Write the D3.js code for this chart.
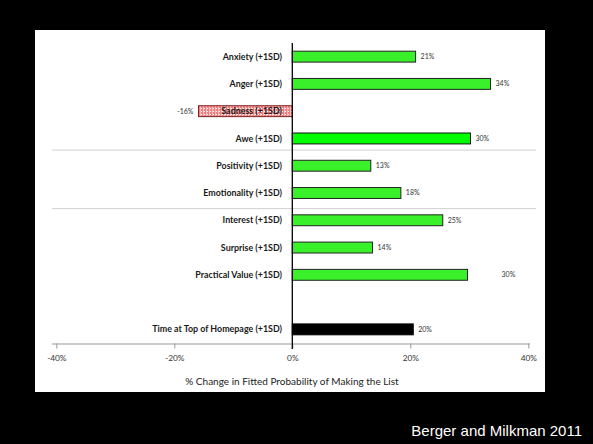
<!DOCTYPE html>
<html><head><meta charset="utf-8">
<script src="https://cdn.jsdelivr.net/npm/d3@7"></script>
<style>body{margin:0;background:#000;}svg{display:block;}</style>
</head><body>
<svg id="c" width="593" height="444"></svg>
<script>
const categories = ["Anxiety (+1SD)","Anger (+1SD)","Sadness (+1SD)","Awe (+1SD)","Positivity (+1SD)","Emotionality (+1SD)","Interest (+1SD)","Surprise (+1SD)","Practical Value (+1SD)","","Time at Top of Homepage (+1SD)"];
const values = [20.9, 33.6, -15.9, 30.2, 13.3, 18.4, 25.5, 13.6, 29.7, null, 20.5];
const valueLabels = ["21%","34%","-16%","30%","13%","18%","25%","14%","30%","","20%"];
const barKinds = ["green","green","sad","awe","green","green","green","green","green","","black"];
const separatorsAfter = [3, 5];
const xTicks = [-40, -20, 0, 20, 40];
const xTitle = "% Change in Fitted Probability of Making the List";
const credit = "Berger and Milkman 2011";

const svg = d3.select("#c");
svg.append("rect").attr("width",593).attr("height",444).attr("fill","#000");
svg.append("rect").attr("x",35).attr("y",30).attr("width",510).attr("height",362).attr("fill","#fff");

const defs = svg.append("defs");
const pat = defs.append("pattern").attr("id","sadpat").attr("patternUnits","userSpaceOnUse").attr("width",3).attr("height",3);
pat.append("rect").attr("width",3).attr("height",3).attr("fill","#f08080");
pat.append("rect").attr("width",1).attr("height",1).attr("fill","#fff");
pat.append("rect").attr("x",2).attr("y",0).attr("width",1).attr("height",3).attr("fill","#f8c0c0");

const x = d3.scaleLinear().domain([-40,40]).range([56.3,528.3]);
const y = d3.scaleBand().domain(d3.range(categories.length)).range([43,343]).paddingInner(0.6).paddingOuter(0.3);

const font = "Lato, 'Open Sans', sans-serif";

// separators
separatorsAfter.forEach((i,k) => {
  const yy = (y(i) + y.bandwidth() + y(i+1)) / 2 + (k===0 ? -2 : 2);
  svg.append("line").attr("x1",52).attr("x2",536).attr("y1",yy).attr("y2",yy).attr("stroke","#d0d0d0").attr("stroke-width",1);
});

// x axis
const xAxis = d3.axisBottom(x).tickValues(xTicks).tickSize(5).tickFormat(d => d + "%");
const gx = svg.append("g").attr("transform","translate(0,343.5)").call(xAxis);
gx.select(".domain").attr("stroke","#999").attr("d","M52,0.5H530");
gx.selectAll(".tick line").attr("stroke","#999");
gx.selectAll(".tick text").attr("font-family",font).attr("font-size",8.3).attr("fill","#333").attr("dy","1.15em");

svg.append("text").attr("x",292).attr("y",384.5).attr("text-anchor","middle").attr("font-family",font).attr("font-size",10).attr("fill","#222").text(xTitle);

const fills = {green:"#3af02a", awe:"#00ff00", sad:"url(#sadpat)", black:"#000"};
const strokes = {green:"#222", awe:"#111", sad:"#802020", black:"#000"};

const idx = d3.range(categories.length).filter(i => values[i] !== null);
svg.append("g").selectAll("rect").data(idx).join("rect")
  .attr("x", i => x(Math.min(0, values[i])))
  .attr("width", i => Math.abs(x(values[i]) - x(0)))
  .attr("y", i => y(i))
  .attr("height", y.bandwidth())
  .attr("fill", i => fills[barKinds[i]])
  .attr("stroke", i => strokes[barKinds[i]])
  .attr("stroke-width", 1);

// zero axis
svg.append("line").attr("x1",x(0)).attr("x2",x(0)).attr("y1",43).attr("y2",349).attr("stroke","#000").attr("stroke-width",1.3);

// category labels
svg.append("g").selectAll("text").data(d3.range(categories.length)).join("text")
  .attr("x", 282).attr("y", i => y(i) + y.bandwidth()/2)
  .attr("dy","0.35em").attr("text-anchor","end")
  .attr("font-family",font).attr("font-weight","bold").attr("font-size",8.9).attr("fill","#1a1a1a")
  .text(i => categories[i]);

// value labels
svg.append("g").selectAll("text").data(idx).join("text")
  .attr("x", i => values[i] < 0 ? x(values[i]) - 5 : (i === 8 ? x(values[i]) + 34 : x(values[i]) + 5))
  .attr("y", i => y(i) + y.bandwidth()/2)
  .attr("dy","0.35em").attr("text-anchor", i => values[i] < 0 ? "end" : "start")
  .attr("font-family",font).attr("font-size",7).attr("fill","#333")
  .text(i => valueLabels[i]);

svg.append("text").attr("x",582).attr("y",436).attr("text-anchor","end").attr("font-family","'Liberation Sans', Arial, sans-serif").attr("font-size",15).attr("fill","#fff").text(credit);
</script>
</body></html>
